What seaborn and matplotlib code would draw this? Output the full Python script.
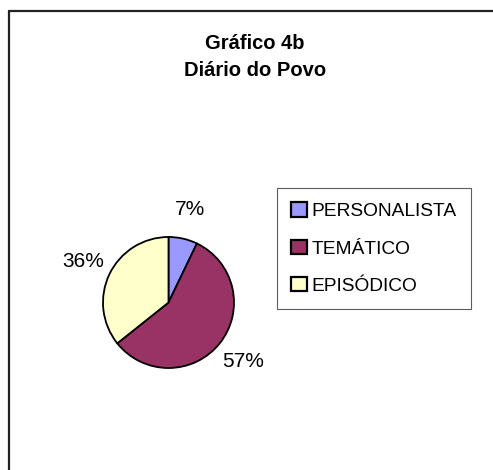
import matplotlib
matplotlib.use("Agg")
import matplotlib.pyplot as plt
import seaborn as sns

# data
categorias = ["PERSONALISTA", "TEMÁTICO", "EPISÓDICO"]
contagens = [2, 16, 10]
cores = ["#9999FF", "#993366", "#FFFFCC"]
titulo = "Gráfico 4b\nDiário do Povo"

sns.set_theme(style="white")
plt.rcParams['font.family'] = ['Liberation Sans', 'DejaVu Sans']
plt.rcParams['text.color'] = 'black'

fig = plt.figure(figsize=(4.93, 4.70), dpi=100)

# outer chart frame (only top and left visible in reference)
frame = fig.add_axes([0, 0, 1, 1])
frame.set_xlim(0, 493)
frame.set_ylim(470, 0)
frame.axis("off")
frame.plot([8.5, 8.5], [11, 470], color="#222222", lw=1.6)
frame.plot([8.5, 493], [11, 11], color="#222222", lw=1.6)

fig.text(255 / 493, 1 - 57 / 470, titulo, ha="center", va="center",
         fontsize=14.5, fontweight="bold", linespacing=1.55)

# pie area: center (168.5, 302.5), radius 65.5 px
ax = fig.add_axes([103 / 493, (470 - 368) / 470, 131 / 493, 131 / 470])
wedges, _, autotexts = ax.pie(
    contagens, colors=cores, startangle=90, counterclock=False,
    autopct=lambda p: f"{p:.0f}%", pctdistance=1.45,
    wedgeprops=dict(edgecolor="black", linewidth=1.3),
    textprops=dict(fontsize=15, color="black"))
ax.set_xlim(-1, 1)
ax.set_ylim(-1, 1)
ax.set_aspect("equal")

leg = fig.legend(wedges, categorias, loc="upper left",
                 bbox_to_anchor=(277 / 493, 1 - 188 / 470),
                 fontsize=13.8, frameon=True, fancybox=False,
                 edgecolor="#333333", handlelength=0.8, handleheight=0.8,
                 handletextpad=0.25, labelspacing=1.0, borderpad=0.75,
                 borderaxespad=0)
leg.get_frame().set_linewidth(0.8)
for h in leg.legend_handles:
    h.set_linewidth(1.6)

fig.savefig("out.png", dpi=100, facecolor="white")
